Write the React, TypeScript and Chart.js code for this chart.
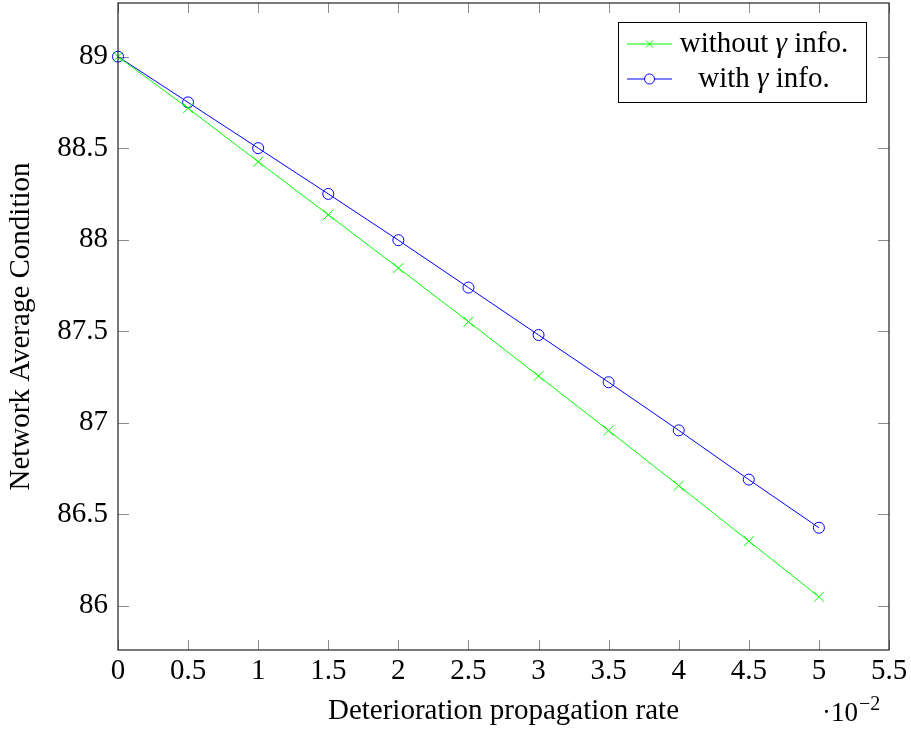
import { useEffect, useRef } from 'react';
import { Chart, registerables } from 'chart.js';

Chart.register(...registerables);

// x values are in units of 10^-2
const X_VALUES = [0, 0.5, 1, 1.5, 2, 2.5, 3, 3.5, 4, 4.5, 5];
const WITHOUT_GAMMA = [89, 88.718, 88.426, 88.136, 87.845, 87.552, 87.255, 86.957, 86.656, 86.353, 86.049];
const WITH_GAMMA = [89, 88.75, 88.5, 88.25, 87.997, 87.738, 87.479, 87.221, 86.958, 86.689, 86.426];
const X_TICKS = [0, 0.5, 1, 1.5, 2, 2.5, 3, 3.5, 4, 4.5, 5, 5.5];
const Y_TICKS = [86, 86.5, 87, 87.5, 88, 88.5, 89];
const SERIES_LABELS = ['without γ info.', 'with γ info.'];
const SERIES_COLORS = ['#00ff00', '#0000ff'];
const X_TITLE = 'Deterioration propagation rate';
const Y_TITLE = 'Network Average Condition';
const X_SCALE_NOTE = ['·10', '−2'];

const FONT = '"Liberation Serif", "Times New Roman", serif';

function drawRichLabel(ctx: CanvasRenderingContext2D, text: string, cx: number, baseline: number, size: number) {
  const parts = text.split('γ');
  const normal = `${size}px ${FONT}`;
  const italic = `italic ${size}px ${FONT}`;
  const pieces: { t: string; f: string }[] = [];
  parts.forEach((p, i) => {
    if (p) pieces.push({ t: p, f: normal });
    if (i < parts.length - 1) pieces.push({ t: 'γ', f: italic });
  });
  let total = 0;
  const widths = pieces.map((p) => {
    ctx.font = p.f;
    const w = ctx.measureText(p.t).width;
    total += w;
    return w;
  });
  let x = cx - total / 2;
  ctx.textAlign = 'left';
  ctx.textBaseline = 'alphabetic';
  ctx.fillStyle = '#000';
  pieces.forEach((p, i) => {
    ctx.font = p.f;
    ctx.fillText(p.t, x, baseline);
    x += widths[i];
  });
}

const framePlugin = {
  id: 'pgfFrame',
  afterDatasetsDraw(chart: any) {
    const { ctx, chartArea } = chart;
    const { left, right, top, bottom } = chartArea;
    const xs = chart.scales.x;
    const ys = chart.scales.y;
    ctx.save();
    // inward ticks
    ctx.strokeStyle = 'rgba(0,0,0,0.45)';
    ctx.lineWidth = 1;
    ctx.beginPath();
    X_TICKS.forEach((v) => {
      const px = Math.round(xs.getPixelForValue(v)) + 0.5;
      ctx.moveTo(px, bottom);
      ctx.lineTo(px, bottom - 10);
      ctx.moveTo(px, top);
      ctx.lineTo(px, top + 10);
    });
    Y_TICKS.forEach((v) => {
      const py = Math.round(ys.getPixelForValue(v)) + 0.5;
      ctx.moveTo(left, py);
      ctx.lineTo(left + 11, py);
      ctx.moveTo(right, py);
      ctx.lineTo(right - 11, py);
    });
    ctx.stroke();
    // frame
    ctx.strokeStyle = '#222';
    ctx.lineWidth = 1.2;
    ctx.strokeRect(left, top, right - left, bottom - top);
    ctx.restore();
  },
  afterDraw(chart: any) {
    const { ctx, chartArea } = chart;
    ctx.save();
    // legend
    const bw = 248;
    const bh = 80;
    const bx = chartArea.right - 23 - bw;
    const by = chartArea.top + 19;
    ctx.fillStyle = '#fff';
    ctx.fillRect(bx, by, bw, bh);
    ctx.strokeStyle = '#000';
    ctx.lineWidth = 1;
    ctx.strokeRect(bx + 0.5, by + 0.5, bw, bh);
    chart.data.datasets.forEach((ds: any, i: number) => {
      const ly = by + 22 + i * 35;
      ctx.strokeStyle = ds.borderColor;
      ctx.lineWidth = 1;
      ctx.beginPath();
      ctx.moveTo(bx + 9, ly);
      ctx.lineTo(bx + 54, ly);
      ctx.stroke();
      const style = ds.pointStyle;
      if (style === 'circle') {
        ctx.beginPath();
        ctx.arc(bx + 31.5, ly, 5, 0, Math.PI * 2);
        ctx.fillStyle = '#fff';
        ctx.fill();
        ctx.stroke();
      } else {
        const d = 3.5;
        ctx.beginPath();
        ctx.moveTo(bx + 31.5 - d, ly - d);
        ctx.lineTo(bx + 31.5 + d, ly + d);
        ctx.moveTo(bx + 31.5 - d, ly + d);
        ctx.lineTo(bx + 31.5 + d, ly - d);
        ctx.stroke();
      }
      drawRichLabel(ctx, ds.label, bx + 146, ly + 7.5, 29);
    });
    // scale note
    ctx.fillStyle = '#000';
    ctx.textAlign = 'left';
    ctx.textBaseline = 'alphabetic';
    ctx.font = `27px ${FONT}`;
    const nx = chartArea.left + (chartArea.right - chartArea.left) * (5.0 / 5.5) + 3;
    ctx.fillText(X_SCALE_NOTE[0], nx, 721);
    const w = ctx.measureText(X_SCALE_NOTE[0]).width;
    ctx.font = `20px ${FONT}`;
    ctx.fillText(X_SCALE_NOTE[1], nx + w + 1, 710);
    ctx.restore();
  },
};

export default function App() {
  const ref = useRef<HTMLCanvasElement | null>(null);
  useEffect(() => {
    document.body.style.margin = '0';
    if (!ref.current) return;
    const chart = new Chart(ref.current, {
      type: 'line',
      data: {
        datasets: [
          {
            label: SERIES_LABELS[0],
            data: X_VALUES.map((x, i) => ({ x, y: WITHOUT_GAMMA[i] })),
            borderColor: SERIES_COLORS[0],
            backgroundColor: 'rgba(0,0,0,0)',
            borderWidth: 1,
            pointStyle: 'crossRot',
            pointRadius: 7,
            pointBorderWidth: 1,
            pointBorderColor: SERIES_COLORS[0],
            pointBackgroundColor: 'rgba(0,0,0,0)',
            tension: 0,
            clip: false,
          },
          {
            label: SERIES_LABELS[1],
            data: X_VALUES.map((x, i) => ({ x, y: WITH_GAMMA[i] })),
            borderColor: SERIES_COLORS[1],
            backgroundColor: 'rgba(0,0,0,0)',
            borderWidth: 1,
            pointStyle: 'circle',
            pointRadius: 5.5,
            pointBorderWidth: 1,
            pointBorderColor: SERIES_COLORS[1],
            pointBackgroundColor: 'rgba(0,0,0,0)',
            tension: 0,
            clip: false,
          },
        ],
      },
      options: {
        animation: false,
        responsive: false,
        maintainAspectRatio: false,
        layout: { autoPadding: false, padding: { left: 0, right: 22, top: 3, bottom: 0 } },
        plugins: { legend: { display: false }, tooltip: { enabled: false } },
        scales: {
          x: {
            type: 'linear',
            min: 0,
            max: 5.5,
            grid: { display: false, drawTicks: false },
            border: { display: false },
            afterBuildTicks: (scale: any) => {
              scale.ticks = X_TICKS.map((v) => ({ value: v }));
            },
            afterFit: (scale: any) => {
              scale.height = 81;
              scale.paddingLeft = 0;
              scale.paddingRight = 0;
            },
            ticks: {
              color: '#000',
              padding: 4,
              maxRotation: 0,
              autoSkip: false,
              font: { family: FONT, size: 29 },
              callback: (v: any) => String(v),
            },
            title: {
              display: true,
              text: X_TITLE,
              color: '#000',
              font: { family: FONT, size: 29 },
              padding: { top: 0, bottom: 2 },
            },
          },
          y: {
            type: 'linear',
            min: 85.758,
            max: 89.293,
            grid: { display: false, drawTicks: false },
            border: { display: false },
            afterBuildTicks: (scale: any) => {
              scale.ticks = Y_TICKS.map((v) => ({ value: v }));
            },
            afterFit: (scale: any) => {
              scale.width = 118;
              scale.paddingTop = 0;
              scale.paddingBottom = 0;
            },
            ticks: {
              color: '#000',
              padding: 10,
              autoSkip: false,
              font: { family: FONT, size: 29 },
              callback: (v: any) => String(v),
            },
            title: {
              display: true,
              text: Y_TITLE,
              color: '#000',
              font: { family: FONT, size: 29 },
              padding: { top: 4, bottom: 0 },
            },
          },
        },
      },
      plugins: [framePlugin],
    });
    return () => chart.destroy();
  }, []);
  return (
    <div style={{ width: 911, height: 731 }}>
      <canvas ref={ref} width={911} height={731} style={{ width: 911, height: 731, display: 'block' }} />
    </div>
  );
}
